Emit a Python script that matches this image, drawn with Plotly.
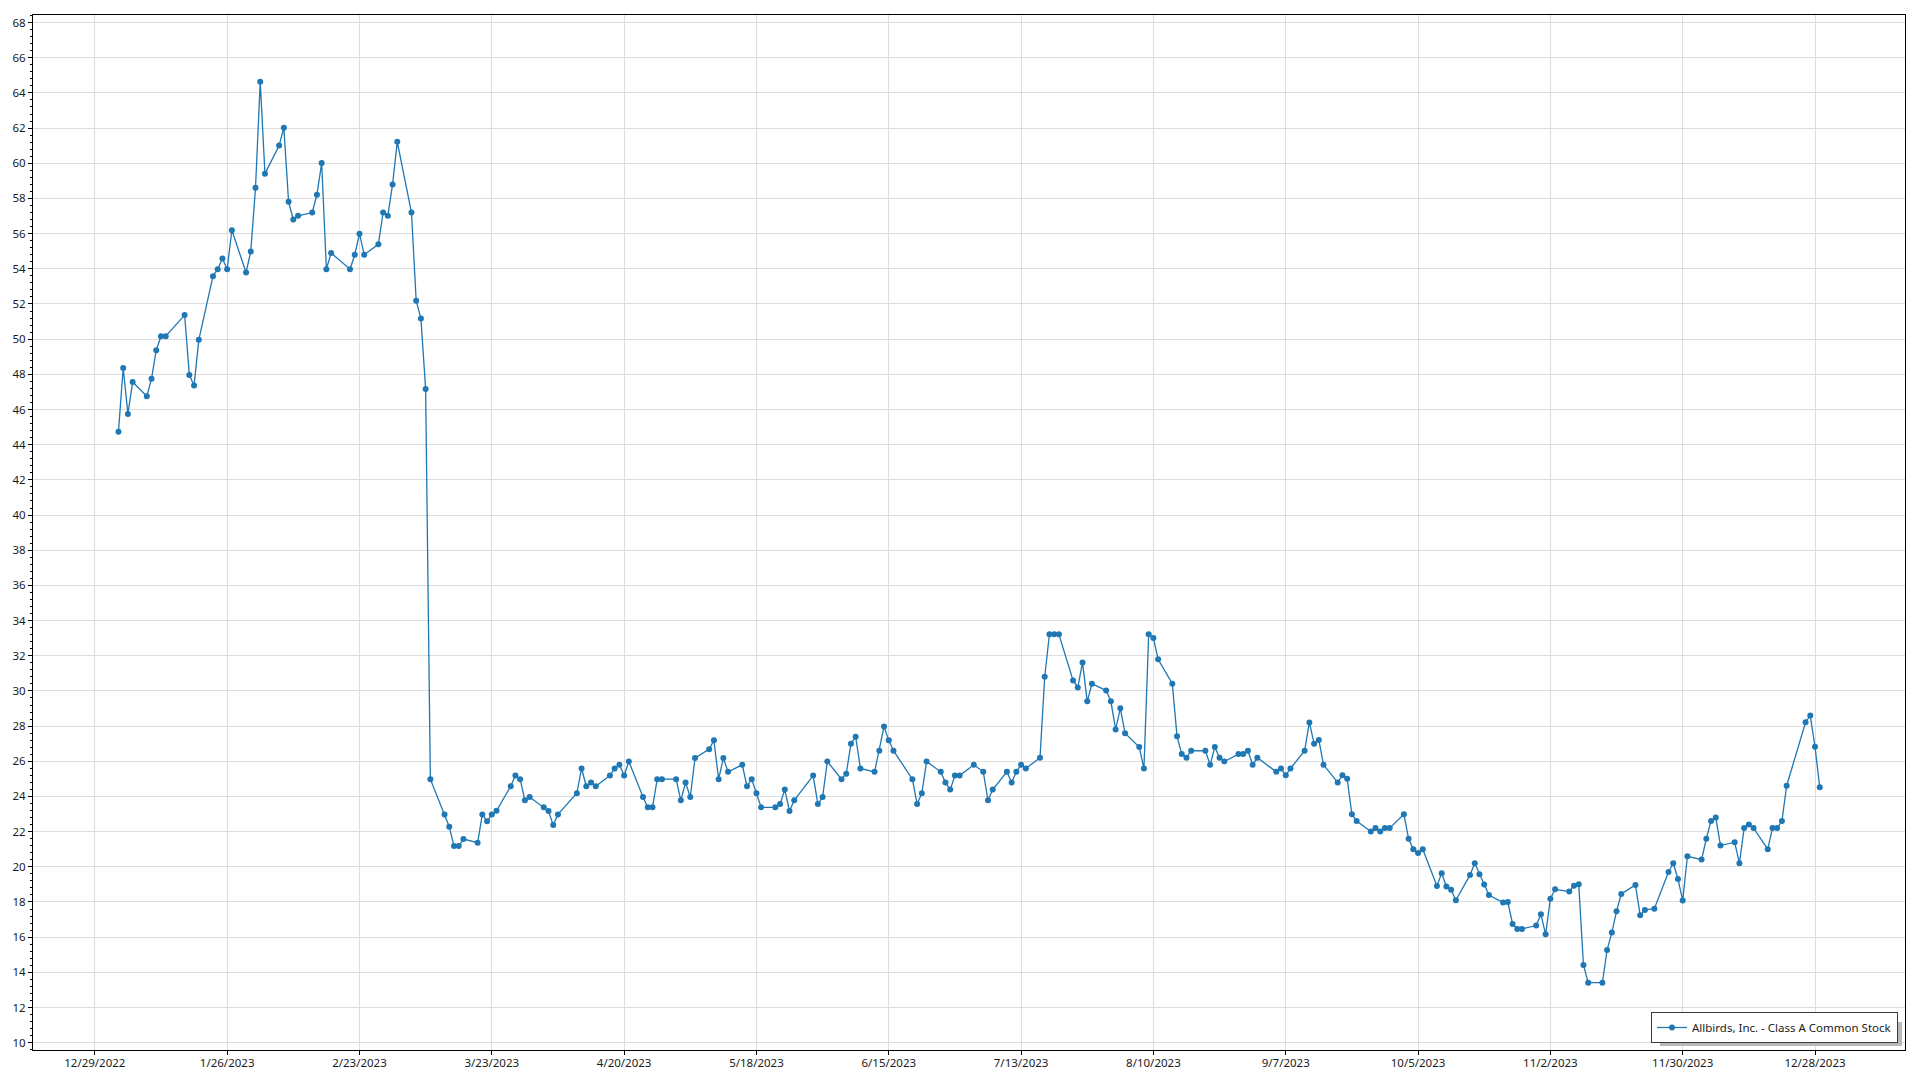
import plotly.graph_objects as go

# ---- data ----
q1_dates = ["2023-01-03","2023-01-04","2023-01-05","2023-01-06","2023-01-09","2023-01-10","2023-01-11","2023-01-12","2023-01-13",
            "2023-01-17","2023-01-18","2023-01-19","2023-01-20","2023-01-23","2023-01-24","2023-01-25","2023-01-26","2023-01-27",
            "2023-01-30","2023-01-31","2023-02-01","2023-02-02","2023-02-03","2023-02-06","2023-02-07","2023-02-08","2023-02-09",
            "2023-02-10","2023-02-13","2023-02-14","2023-02-15","2023-02-16","2023-02-17","2023-02-21","2023-02-22","2023-02-23",
            "2023-02-24","2023-02-27","2023-02-28","2023-03-01","2023-03-02","2023-03-03","2023-03-06","2023-03-07","2023-03-08",
            "2023-03-09","2023-03-10","2023-03-13","2023-03-14","2023-03-15","2023-03-16","2023-03-17","2023-03-20","2023-03-21",
            "2023-03-22","2023-03-23","2023-03-24","2023-03-27","2023-03-28","2023-03-29","2023-03-30","2023-03-31"]
q1_close = [44.74,48.36,45.75,47.56,46.76,47.75,49.37,50.17,50.17,
            51.37,47.96,47.37,49.96,53.58,53.98,54.59,53.98,56.19,
            53.79,54.99,58.61,64.63,59.41,61.01,62.02,57.81,56.80,
            57.01,57.20,58.21,60.02,53.98,54.90,53.98,54.80,56.00,
            54.80,55.39,57.20,57.01,58.80,61.22,57.20,52.19,51.18,
            47.16,24.98,22.98,22.28,21.18,21.18,21.58,21.37,22.98,
            22.59,22.98,23.19,24.58,25.19,24.98,23.78,23.97]

q2_dates = ["2023-04-03","2023-04-04","2023-04-05","2023-04-06","2023-04-10","2023-04-11","2023-04-12","2023-04-13","2023-04-14",
            "2023-04-17","2023-04-18","2023-04-19","2023-04-20","2023-04-21","2023-04-24","2023-04-25","2023-04-26","2023-04-27",
            "2023-04-28","2023-05-01","2023-05-02","2023-05-03","2023-05-04","2023-05-05","2023-05-08","2023-05-09","2023-05-10",
            "2023-05-11","2023-05-12","2023-05-15","2023-05-16","2023-05-17","2023-05-18","2023-05-19","2023-05-22","2023-05-23",
            "2023-05-24","2023-05-25","2023-05-26","2023-05-30","2023-05-31","2023-06-01","2023-06-02","2023-06-05","2023-06-06",
            "2023-06-07","2023-06-08","2023-06-09","2023-06-12","2023-06-13","2023-06-14","2023-06-15","2023-06-16","2023-06-20",
            "2023-06-21","2023-06-22","2023-06-23","2023-06-26","2023-06-27","2023-06-28","2023-06-29","2023-06-30"]
q2_close = [23.38,23.17,22.38,22.98,24.18,25.59,24.58,24.79,24.58,
            25.19,25.59,25.80,25.19,25.99,23.97,23.38,23.38,24.98,
            24.98,24.98,23.78,24.79,23.97,26.18,26.69,27.19,24.98,
            26.18,25.40,25.80,24.58,24.98,24.18,23.38,23.38,23.57,
            24.39,23.17,23.78,25.19,23.57,23.97,25.99,24.98,25.29,
            27.00,27.40,25.59,25.40,26.60,27.98,27.19,26.60,24.98,
            23.57,24.18,25.99,25.40,24.79,24.39,25.19,25.19]

q3_dates = ["2023-07-03","2023-07-05","2023-07-06","2023-07-07","2023-07-10","2023-07-11","2023-07-12","2023-07-13","2023-07-14",
            "2023-07-17","2023-07-18","2023-07-19","2023-07-20","2023-07-21","2023-07-24","2023-07-25","2023-07-26","2023-07-27",
            "2023-07-28","2023-07-31","2023-08-01","2023-08-02","2023-08-03","2023-08-04","2023-08-07","2023-08-08","2023-08-09",
            "2023-08-10","2023-08-11","2023-08-14","2023-08-15","2023-08-16","2023-08-17","2023-08-18","2023-08-21","2023-08-22",
            "2023-08-23","2023-08-24","2023-08-25","2023-08-28","2023-08-29","2023-08-30","2023-08-31","2023-09-01","2023-09-05",
            "2023-09-06","2023-09-07","2023-09-08","2023-09-11","2023-09-12","2023-09-13","2023-09-14","2023-09-15","2023-09-18",
            "2023-09-19","2023-09-20","2023-09-21","2023-09-22","2023-09-25","2023-09-26","2023-09-27","2023-09-28","2023-09-29"]
q3_close = [25.80,25.40,23.78,24.39,25.40,24.79,25.40,25.80,25.59,
            26.20,30.81,33.22,33.22,33.22,30.60,30.20,31.61,29.41,
            30.41,30.02,29.41,27.81,29.01,27.60,26.81,25.59,33.22,
            33.01,31.80,30.41,27.42,26.41,26.20,26.60,26.60,25.80,
            26.81,26.20,25.99,26.41,26.41,26.60,25.80,26.20,25.40,
            25.59,25.20,25.59,26.60,28.21,27.00,27.21,25.80,24.80,
            25.20,25.01,22.99,22.60,22.01,22.20,22.01,22.20,22.20]

q4_dates = ["2023-10-02","2023-10-03","2023-10-04","2023-10-05","2023-10-06","2023-10-09","2023-10-10","2023-10-11","2023-10-12",
            "2023-10-13","2023-10-16","2023-10-17","2023-10-18","2023-10-19","2023-10-20","2023-10-23","2023-10-24","2023-10-25",
            "2023-10-26","2023-10-27","2023-10-30","2023-10-31","2023-11-01","2023-11-02","2023-11-03","2023-11-06","2023-11-07",
            "2023-11-08","2023-11-09","2023-11-10","2023-11-13","2023-11-14","2023-11-15","2023-11-16","2023-11-17","2023-11-20",
            "2023-11-21","2023-11-22","2023-11-24","2023-11-27","2023-11-28","2023-11-29","2023-11-30","2023-12-01","2023-12-04",
            "2023-12-05","2023-12-06","2023-12-07","2023-12-08","2023-12-11","2023-12-12","2023-12-13","2023-12-14","2023-12-15",
            "2023-12-18","2023-12-19","2023-12-20","2023-12-21","2023-12-22","2023-12-26","2023-12-27","2023-12-28","2023-12-29"]
q4_close = [22.99,21.59,21.00,20.79,21.00,18.91,19.64,18.88,18.69,
            18.10,19.54,20.20,19.58,18.99,18.40,17.97,18.00,16.75,
            16.47,16.47,16.66,17.30,16.16,18.19,18.72,18.59,18.93,
            19.01,14.42,13.41,13.41,15.27,16.26,17.47,18.46,18.97,
            17.24,17.55,17.62,19.71,20.20,19.31,18.08,20.60,20.41,
            21.60,22.61,22.80,21.21,21.40,20.20,22.20,22.41,22.20,
            21.00,22.20,22.20,22.60,24.61,28.22,28.60,26.82,24.52]

series_name = "Allbirds, Inc. - Class A Common Stock"

dates = q1_dates + q2_dates + q3_dates + q4_dates
close = q1_close + q2_close + q3_close + q4_close

W, H = 1920, 1080
L, R, T, B = 33, 15, 15, 30
pw, ph = W - L - R, H - T - B


def px_x(p):
    return (p - L) / pw


def px_y(p):
    return (H - B - p) / ph


fig = go.Figure(go.Scatter(
    x=dates, y=close, mode="lines+markers", name=series_name,
    line=dict(color="#1f77b4", width=1.3),
    marker=dict(size=6, color="#1f77b4"),
))

font_family = "Noto Sans, Open Sans, Arial, sans-serif"

# soft legend shadow (bottom-right), drawn beneath the legend box
fig.add_shape(type="rect", xref="paper", yref="paper", layer="above",
              x0=px_x(1660), x1=px_x(1902), y0=px_y(1046), y1=px_y(1022),
              fillcolor="#b8b8b8", line=dict(width=0))

fig.update_layout(
    width=W, height=H,
    margin=dict(l=L, r=R, t=T, b=B, pad=0, autoexpand=False),
    paper_bgcolor="white", plot_bgcolor="white",
    font=dict(family=font_family, size=11.5, color="#1a1a1a"),
    showlegend=True,
    legend=dict(x=px_x(1898), y=px_y(1043), xanchor="right", yanchor="bottom",
                bgcolor="white", bordercolor="#3a3a3a", borderwidth=1,
                itemwidth=30, font=dict(size=11.5)),
)

fig.update_xaxes(
    type="date", range=["2022-12-15 22:00", "2024-01-16 01:00"],
    tick0="2022-12-29", dtick=28 * 86400000, tickformat="%-m/%-d/%Y",
    showgrid=True, gridcolor="#dddddd", gridwidth=1,
    showline=True, linecolor="black", linewidth=1, mirror=True,
    ticks="outside", ticklen=4, tickcolor="black", zeroline=False,
    automargin=False, ticklabelstandoff=-2,
)
fig.update_yaxes(
    range=[9.585, 68.43], tick0=0, dtick=2,
    showgrid=True, gridcolor="#dddddd", gridwidth=1,
    showline=True, linecolor="black", linewidth=1, mirror=True,
    ticks="outside", ticklen=4, tickcolor="black", zeroline=False,
    automargin=False,
    minor=dict(dtick=0.4, ticks="outside", ticklen=2, tickcolor="black", showgrid=False),
)

fig.write_html("out.html", config={"displayModeBar": False},
               post_script="document.body.style.margin='0';document.body.style.overflow='hidden';")
